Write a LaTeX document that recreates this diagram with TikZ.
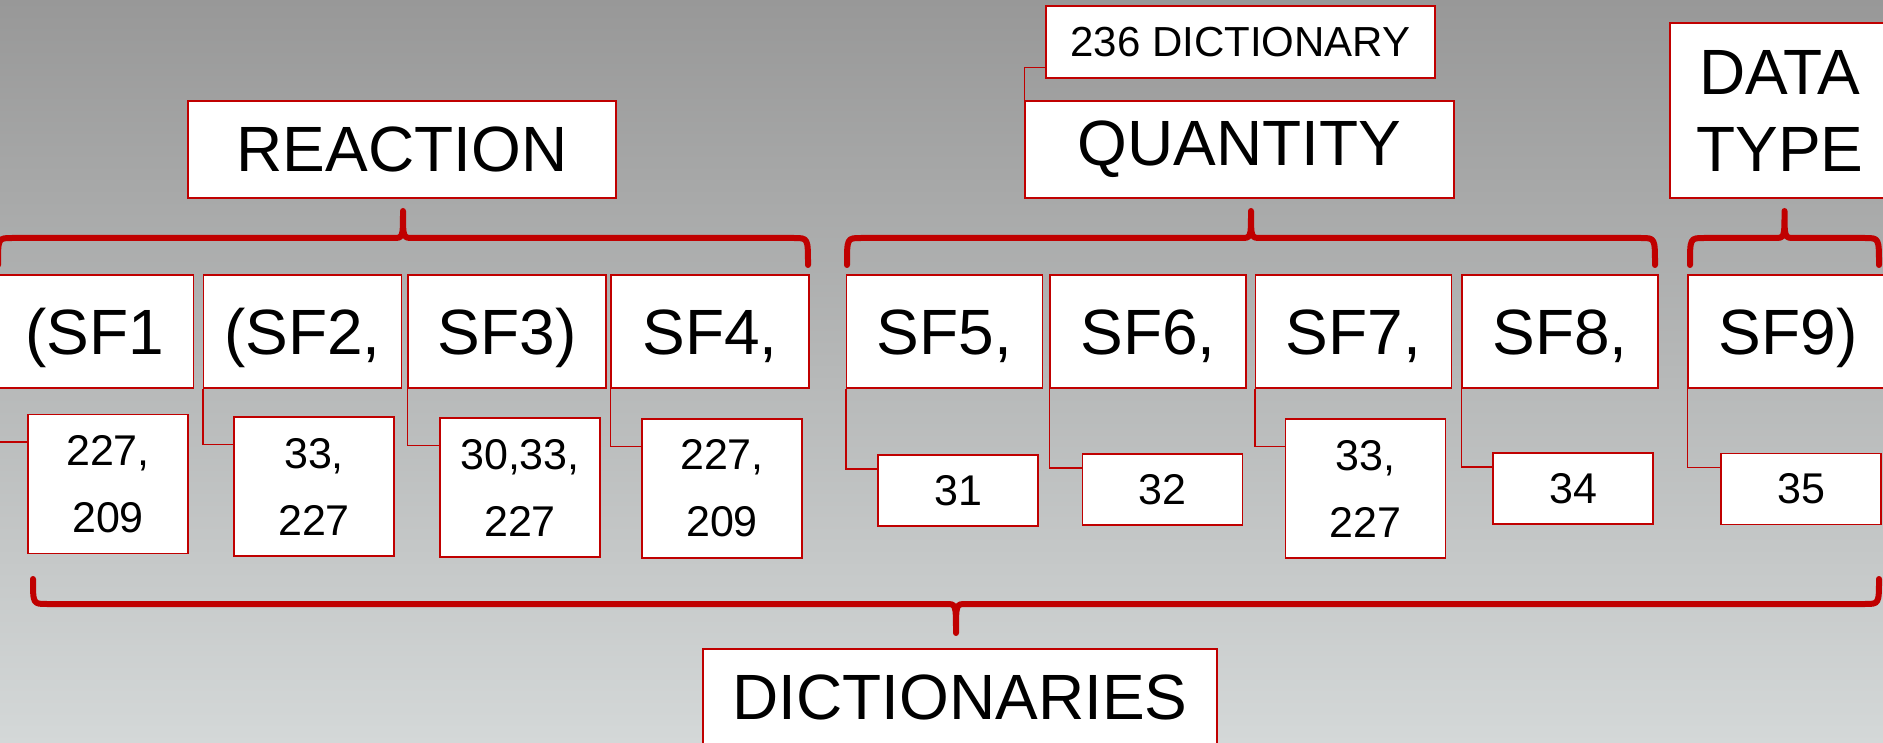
\documentclass[tikz,border=0pt]{standalone}
\usepackage{fontspec}
\setmainfont{Liberation Sans}
\usetikzlibrary{calc}
\definecolor{dictred}{RGB}{192,0,0}
\definecolor{bgtop}{RGB}{152,152,152}
\definecolor{bgbottom}{RGB}{212,216,216}
\def\dictbrace(#1:#2)(#3:#4:#5){\draw[bracestroke] (#1,#3) .. controls (#1,#4) .. ({#1+14},#4) -- ({(#1+#2)/2-10},#4) .. controls ({(#1+#2)/2},#4) .. ({(#1+#2)/2},#5) .. controls ({(#1+#2)/2},#4) .. ({(#1+#2)/2+10},#4) -- ({#2-14},#4) .. controls (#2,#4) .. (#2,#3);}
\tikzset{
  dictbox/.style={draw=dictred, line width=1.5pt, fill=white, inner sep=0pt},
  bigbox/.style={dictbox, font=\fontsize{64}{77}\selectfont, align=center},
  sfbox/.style={dictbox, font=\fontsize{64}{77}\selectfont, minimum width=198pt, minimum height=113pt, text height=46pt, text depth=0pt},
  numbox/.style={dictbox, font=\fontsize{43}{67}\selectfont, align=center, minimum width=160pt, minimum height=139pt},
  shortbox/.style={numbox, minimum height=71pt},
  dictlink/.style={draw=dictred, line width=1.5pt},
  bracestroke/.style={draw=dictred, line width=6pt, line cap=round, line join=round},
}

\begin{document}
\begin{tikzpicture}[x=1pt, y=-1pt]
		%%%%% START %%%%%
		\useasboundingbox (0,0) rectangle (1883,743);
		\shade[top color=bgtop, bottom color=bgbottom] (0,0) rectangle (1883,743);
		
		\node[dictbox, font=\fontsize{42}{50}\selectfont, minimum width=389pt, minimum height=72pt] (dict236) at (1240.5,42) {236 DICTIONARY};
		\node[bigbox, minimum width=428pt, minimum height=97pt] (reaction) at (402,149.5) {REACTION};
		\node[bigbox, minimum width=429pt, minimum height=97pt] (quantity) at (1239.5,149.5) {QUANTITY};
		\node[bigbox, minimum width=220pt, minimum height=175pt] (datatype) at (1780,110.5) {DATA\\TYPE};
		
		\draw[dictlink] (quantity.north west) |- ($(dict236.north west)!0.85!(dict236.south west)$);
		
		\dictbrace(-2:808)(265:238:211)
		\dictbrace(847:1655)(265:238:211)
		\dictbrace(1690:1879)(265:238:211)
		
		\node[sfbox] (sf1) at (94.5,331.5) {(SF1};
		\node[sfbox] (sf2) at (302.5,331.5) {(SF2,};
		\node[sfbox] (sf3) at (507,331.5) {SF3)};
		\node[sfbox] (sf4) at (710,331.5) {SF4,};
		\node[sfbox, minimum width=196pt] (sf5) at (944.5,331.5) {SF5,};
		\node[sfbox, minimum width=196pt] (sf6) at (1148,331.5) {SF6,};
		\node[sfbox, minimum width=196pt] (sf7) at (1353.5,331.5) {SF7,};
		\node[sfbox, minimum width=196pt] (sf8) at (1560,331.5) {SF8,};
		\node[sfbox, minimum width=200pt] (sf9) at (1788,331.5) {SF9)};
		
		\node[numbox] (d1) at (108,484) {227,\\209};
		\node[numbox] (d2) at (314,486.5) {33,\\227};
		\node[numbox] (d3) at (520,487.5) {30,33,\\227};
		\node[numbox] (d4) at (722,488.5) {227,\\209};
		\node[shortbox] (d5) at (958,490.5) {31};
		\node[shortbox] (d6) at (1162.5,489.5) {32};
		\node[numbox] (d7) at (1365.5,488.5) {33,\\227};
		\node[shortbox] (d8) at (1573,488.5) {34};
		\node[shortbox] (d9) at (1801,489) {35};
		
		\foreach \i in {1,...,9}
			\draw[dictlink] (sf\i.south west) |- ($(d\i.north west)!0.2!(d\i.south west)$);
		
		\dictbrace(33:1879)(579:604:633)
		
		\node[bigbox, minimum width=514pt, minimum height=97pt] (dicts) at (960,697.5) {DICTIONARIES};
		
		%%%%% END %%%%%
	\end{tikzpicture}
\end{document}
